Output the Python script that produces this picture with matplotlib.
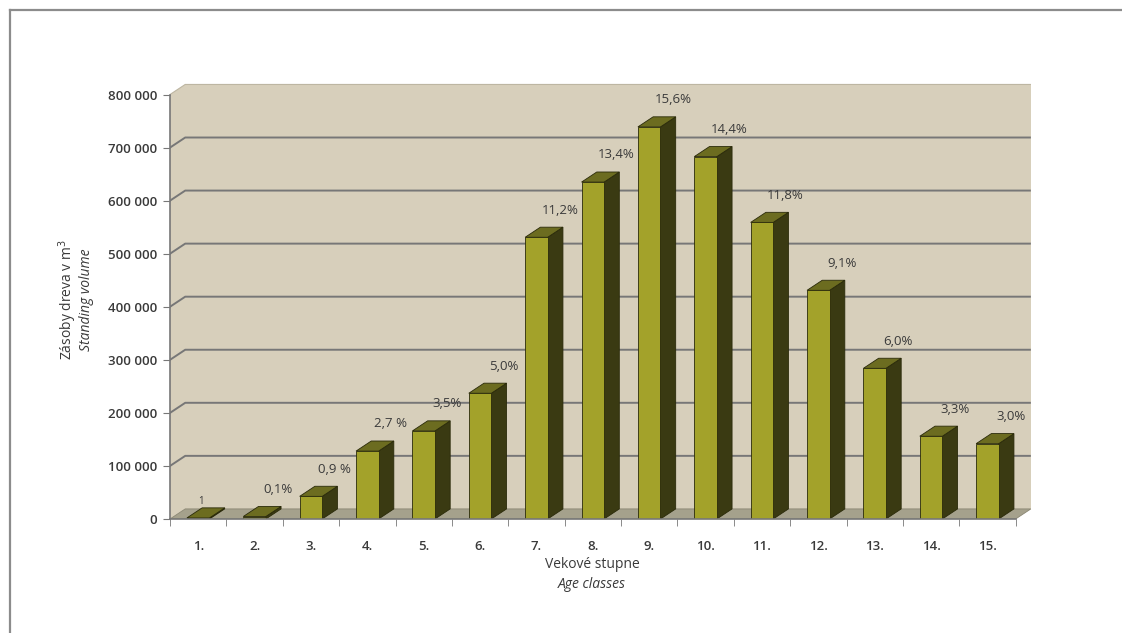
import matplotlib
matplotlib.use("Agg")
import matplotlib.pyplot as plt
from matplotlib.patches import Polygon, Rectangle

# --- data ------------------------------------------------------------------
age_classes = ["1.", "2.", "3.", "4.", "5.", "6.", "7.", "8.", "9.", "10.",
               "11.", "12.", "13.", "14.", "15."]
volume_m3 = [2000, 4700, 42700, 128000, 166000, 237000, 531000, 635000,
             739000, 683000, 559000, 431000, 284000, 156000, 142000]
share_labels = ["1", "0,1%", "0,9 %", "2,7 %", "3,5%", "5,0%", "11,2%", "13,4%",
                "15,6%", "14,4%", "11,8%", "9,1%", "6,0%", "3,3%", "3,0%"]
y_ticks = [0, 100000, 200000, 300000, 400000, 500000, 600000, 700000, 800000]

# --- look -------------------------------------------------------------------
FONT = ["Open Sans", "DejaVu Sans"]
TXT = "#3a3a3a"
WALL = "#d7cfbb"
FLOOR = "#a5a18c"
GRID = "#777777"
FRONT = "#a3a22a"
SIDE = "#3a3a12"
TOP = "#6c6c20"
EDGE = "#2a2a0a"

DX = 0.27        # depth offset in category units
DY = 19000       # depth offset in value units
HALF = 0.2       # half bar width
YMAX = 800000

plt.rcParams["font.family"] = FONT

fig = plt.figure(figsize=(11.22, 6.33), dpi=100)
fig.patch.set_facecolor("white")

# scan border
fig.add_artist(plt.Line2D([10 / 1122, 1.0], [1 - 10 / 633, 1 - 10 / 633],
                          color="#8c8c8c", lw=1.6, transform=fig.transFigure))
fig.add_artist(plt.Line2D([10 / 1122, 10 / 1122], [0, 1 - 10 / 633],
                          color="#8c8c8c", lw=1.6, transform=fig.transFigure))

ax = fig.add_axes([170 / 1122, (633 - 519) / 633, 902 / 1122, 451 / 633])
ax.set_xlim(0.5, 16.5)
ax.set_ylim(0, 850000)
ax.set_facecolor("none")

x0, x1 = 0.5, len(age_classes) + 0.5

# walls and floor
ax.add_patch(Polygon([(x0, 0), (x0, YMAX), (x0 + DX, YMAX + DY), (x0 + DX, DY)],
                     closed=True, fc=WALL, ec="none", zorder=0))
ax.add_patch(Rectangle((x0 + DX, DY), x1 - x0, YMAX, fc=WALL, ec="none", zorder=0))
ax.add_patch(Polygon([(x0, 0), (x1, 0), (x1 + DX, DY), (x0 + DX, DY)],
                     closed=True, fc=FLOOR, ec="#8a8672", lw=0.6, zorder=1))

for v in y_ticks[1:]:
    lw = 1.4 if v < YMAX else 0.8
    col = GRID if v < YMAX else "#bdb6a2"
    ax.plot([x0, x0 + DX, x1 + DX], [v, v + DY, v + DY], color=col, lw=lw,
            zorder=1, solid_capstyle="butt")

# bars
for i, v in enumerate(volume_m3):
    c = i + 1
    l, r = c - HALF, c + HALF
    ax.add_patch(Polygon([(r, 0), (r + DX, DY), (r + DX, v + DY), (r, v)],
                         closed=True, fc=SIDE, ec=EDGE, lw=0.6, zorder=3))
    ax.add_patch(Polygon([(l, v), (r, v), (r + DX, v + DY), (l + DX, v + DY)],
                         closed=True, fc=TOP, ec=EDGE, lw=0.6, zorder=3))
    ax.add_patch(Rectangle((l, 0), r - l, v, fc=FRONT, ec=EDGE, lw=0.6, zorder=4))
    if i == 0:
        ax.text(c + 0.05, v + DY + 1000, share_labels[i], ha="center", va="bottom",
                fontsize=7, color=TXT, zorder=5)
    else:
        ax.text(c + 0.42, v + DY + 20000, share_labels[i], ha="center",
                va="bottom", fontsize=9.5, color=TXT, zorder=5)

# axes
for s in ("top", "right"):
    ax.spines[s].set_visible(False)
ax.spines["left"].set_bounds(0, YMAX)
ax.spines["bottom"].set_bounds(x0, x1)
for s in ("left", "bottom"):
    ax.spines[s].set_color("#777777")
    ax.spines[s].set_linewidth(1.2)
    ax.spines[s].set_zorder(6)

ax.set_yticks(y_ticks)
ax.set_yticklabels([f"{v:,}".replace(",", " ") for v in y_ticks])
ax.set_xticks(range(1, len(age_classes) + 1))
ax.set_xticklabels(age_classes)
ax.set_xticks([k + 0.5 for k in range(len(age_classes) + 1)], minor=True)
ax.tick_params(axis="x", which="major", length=0, pad=15)
ax.tick_params(axis="x", which="minor", length=5, color="#777777", direction="out")
ax.tick_params(axis="y", length=5, color="#777777", pad=4)
for lab in ax.get_xticklabels() + ax.get_yticklabels():
    lab.set_fontsize(9.5)
    lab.set_color(TXT)
    lab.set_fontweight("semibold")

# axis titles
fig.text(68 / 1122, 1 - 300 / 633, "Zásoby dreva v m$^{3}$", rotation=90,
         ha="center", va="center", fontsize=10, color=TXT)
fig.text(87 / 1122, 1 - 300 / 633, "Standing volume", rotation=90, style="italic",
         ha="center", va="center", fontsize=10, color=TXT)
fig.text(592 / 1122, 1 - 564 / 633, "Vekové stupne", ha="center", va="center",
         fontsize=10, color=TXT)
fig.text(592 / 1122, 1 - 584 / 633, "Age classes", ha="center", va="center",
         fontsize=10, color=TXT, style="italic")

fig.savefig("out.png", dpi=100)
